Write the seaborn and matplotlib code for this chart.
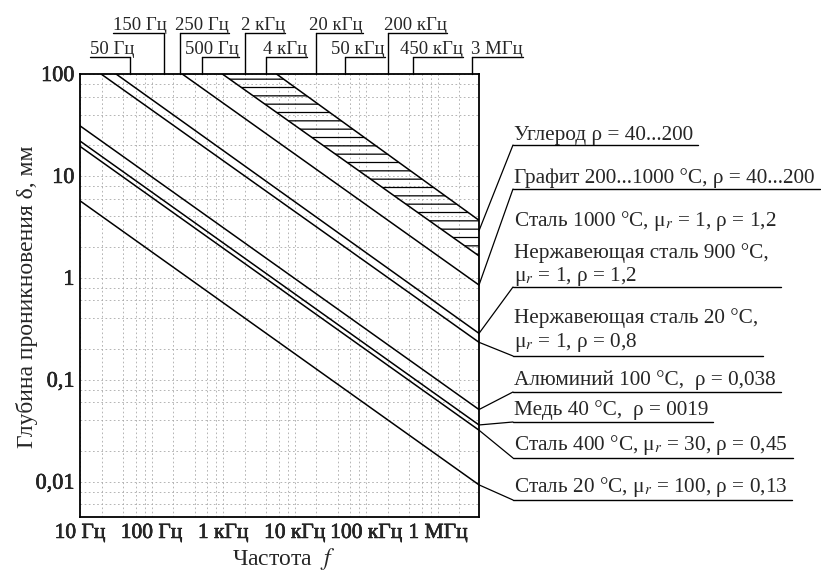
import matplotlib
matplotlib.use("Agg")
import numpy as np
import pandas as pd
import matplotlib.pyplot as plt
import matplotlib.patheffects as pe
import seaborn as sns
from matplotlib.lines import Line2D
from matplotlib.transforms import blended_transform_factory

# ---------------- data ----------------
line_names = ["Углерод ρ=200", "Углерод ρ=40", "Графит", "ρ=1,2", "ρ=0,8",
              "Алюминий", "Медь", "Сталь 400", "Сталь 20"]
f_start = [5560, 975, 268, 31.9, 19.7, 10, 10, 10, 10]
d_start = [100, 100, 100, 100, 100, 31, 22, 19.5, 5.7]
f_end = [3.75e6] * 9
d_end = [3.67, 1.64, 0.85, 0.285, 0.233, 0.051, 0.036, 0.032, 0.0093]

x_ticks = [10, 100, 1e3, 1e4, 1e5, 1e6]
x_ticklabels = ["10 Гц", "100 Гц", "1 кГц", "10 кГц", "100 кГц", "1 МГц"]
y_ticks = [0.01, 0.1, 1, 10, 100]
y_ticklabels = ["0,01", "0,1", "1", "10", "100"]

top_freqs = [50, 150, 250, 500, 2e3, 4e3, 2e4, 5e4, 2e5, 4.5e5, 3e6]
top_labels = ["50 Гц", "150 Гц", "250 Гц", "500 Гц", "2 кГц", "4 кГц",
              "20 кГц", "50 кГц", "200 кГц", "450 кГц", "3 МГц"]
top_rows = [2, 1, 1, 2, 1, 2, 1, 2, 1, 2, 2]

mat_texts = [
    ["Углерод ρ = 40...200"],
    ["Графит 200...1000 °C, ρ = 40...200"],
    ["Сталь 1000 °C, μ$_r$ = 1, ρ = 1,2", "Нержавеющая сталь 900 °C,", "μ$_r$ = 1, ρ = 1,2"],
    ["Нержавеющая сталь 20 °C,", "μ$_r$ = 1, ρ = 0,8"],
    ["Алюминий 100 °C,  ρ = 0,038"],
    ["Медь 40 °C,  ρ = 0019"],
    ["Сталь 400 °C, μ$_r$ = 30, ρ = 0,45"],
    ["Сталь 20 °C, μ$_r$ = 100, ρ = 0,13"],
]
mat_target = [2.9, 0.85, 0.285, 0.233, 0.051, 0.036, 0.032, 0.0093]

# ---------------- layout (pixels of an 821x574 canvas) ----------------
W, H = 821, 574
top_text_x = [112, 140, 202, 212, 263, 285, 336, 358, 415, 431, 497]
row_base = {1: 30, 2: 54}
row_line = {1: 33, 2: 57}
mat_baselines = [[140], [183], [226, 258, 281], [323, 347], [385], [415], [450], [492]]
mat_underline = [145, 189, 287, 356, 392, 422, 458, 500]
label_x = 514

sns.set_style("white")
plt.rcParams["font.family"] = ["Liberation Serif", "DejaVu Serif"]
plt.rcParams["mathtext.fontset"] = "stix"
plt.rcParams["hatch.linewidth"] = 0.9

fig = plt.figure(figsize=(W / 100, H / 100), dpi=100)
ax = fig.add_axes([80 / W, 1 - 517 / H, 399 / W, 443 / H])
ax.set_xscale("log")
ax.set_yscale("log")
ax.set_xlim(10, 3.75e6)
ax.set_ylim(0.0045, 100)

df = pd.DataFrame({
    "f": f_start + f_end,
    "delta": d_start + d_end,
    "line": line_names + line_names,
})
sns.lineplot(data=df, x="f", y="delta", units="line", estimator=None,
             color="black", linewidth=1.1, legend=False, sort=False, ax=ax)

# hatched carbon band
ax.fill([f_start[1], f_start[0], f_end[0], f_end[1]],
        [d_start[1], d_start[0], d_end[0], d_end[1]],
        facecolor="none", edgecolor="black", linewidth=0, hatch="--")

# grid and ticks
ax.set_xticks(x_ticks)
ax.set_xticklabels(x_ticklabels)
ax.set_yticks(y_ticks)
ax.set_yticklabels(y_ticklabels)
ax.xaxis.set_minor_locator(matplotlib.ticker.LogLocator(base=10, subs=(2, 4, 6, 8), numticks=20))
ax.yaxis.set_minor_locator(matplotlib.ticker.LogLocator(base=10, subs=(2, 4, 6, 8), numticks=20))
ax.xaxis.set_minor_formatter(matplotlib.ticker.NullFormatter())
ax.yaxis.set_minor_formatter(matplotlib.ticker.NullFormatter())
ax.grid(True, which="both", color="#a8a8a8", linestyle=(0, (2, 3)), linewidth=0.6)
ax.tick_params(which="both", length=0)
ax.tick_params(axis="x", pad=5, labelsize=15.5)
ax.tick_params(axis="y", pad=4, labelsize=16)
heavy = [pe.withStroke(linewidth=0.4, foreground="black")]
for t in ax.get_xticklabels() + ax.get_yticklabels():
    t.set_path_effects(heavy)
for s in ax.spines.values():
    s.set_color("black")
    s.set_linewidth(1.3)
ax.set_xlabel("")
ax.set_ylabel("")

def fx(x):
    return x / W

def fy(y):
    return 1 - y / H

fig.text(fx(27), fy(297), "Глубина проникновения δ, мм", rotation=90,
         ha="center", va="center", fontsize=17)
fig.text(fx(284), fy(559), "Частота  $f$", ha="center", va="center", fontsize=17)

fig.canvas.draw()
renderer = fig.canvas.get_renderer()

# top frequency markers
blend = blended_transform_factory(ax.transData, fig.transFigure)
for f, lab, row, tx in zip(top_freqs, top_labels, top_rows, top_text_x):
    t = fig.text(fx(tx), fy(row_base[row]), lab, ha="center", va="baseline", fontsize=13.5)
    bb = t.get_window_extent(renderer)
    xpix = ax.transData.transform((f, 1))[0]
    if xpix > (bb.x0 + bb.x1) / 2:
        x0, x1 = bb.x0, xpix
    else:
        x0, x1 = xpix, bb.x1
    yl = fy(row_line[row])
    fig.add_artist(Line2D([x0 / W, x1 / W], [yl, yl], color="black", lw=1.0))
    ax.plot([f, f], [yl, fy(74)], transform=blend, color="black", lw=1.0, clip_on=False)

# material labels with underlines and leaders
for texts, bases, uly, target in zip(mat_texts, mat_baselines, mat_underline, mat_target):
    right = 0
    for txt, b in zip(texts, bases):
        t = fig.text(fx(label_x), fy(b), txt, ha="left", va="baseline", fontsize=15.3)
        right = max(right, t.get_window_extent(renderer).x1)
    fig.add_artist(Line2D([fx(513), min(right + 5, W) / W], [fy(uly), fy(uly)], color="black", lw=1.0))
    ax.annotate("", xy=(3.75e6, target), xycoords="data",
                xytext=(fx(513), fy(uly)), textcoords="figure fraction",
                arrowprops=dict(arrowstyle="-", color="black", lw=0.9,
                                shrinkA=0, shrinkB=0), annotation_clip=False)

fig.savefig("out.png", dpi=100)
